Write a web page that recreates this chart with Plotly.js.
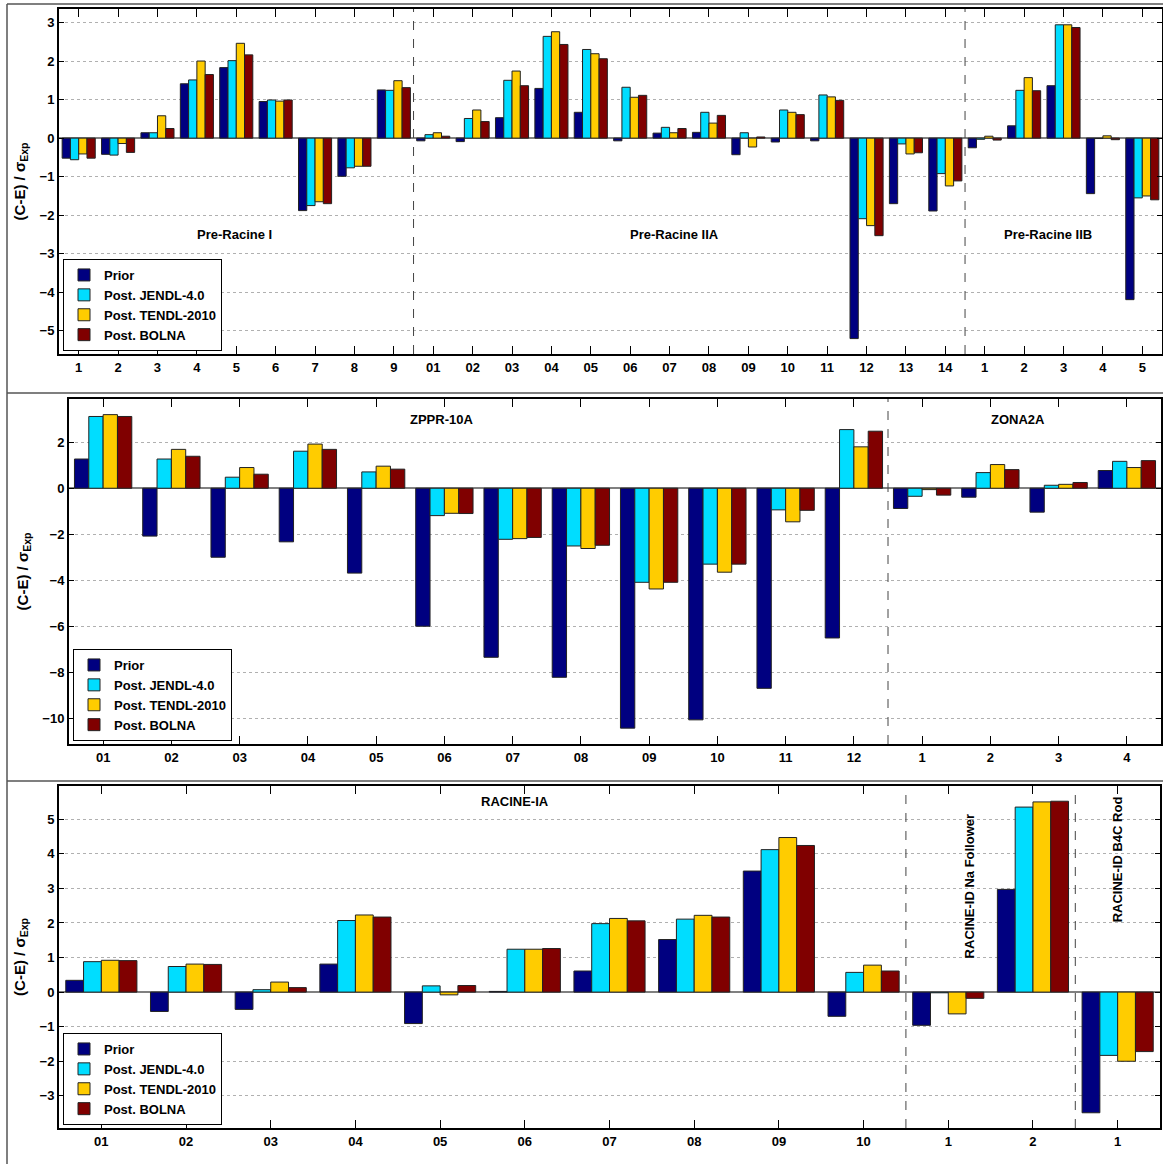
<!DOCTYPE html>
<html>
<head>
<meta charset="utf-8">
<script src="https://cdn.plot.ly/plotly-3.0.1.min.js"></script>
<style>html,body{margin:0;padding:0;background:#fff;}#chart{width:1163px;height:1164px;}</style>
</head>
<body>
<div id="chart"></div>
<script>
// ---------- DATA ----------
const seriesNames = ["Prior", "Post. JENDL-4.0", "Post. TENDL-2010", "Post. BOLNA"];

// Panel 1: Pre-Racine I (1-9), Pre-Racine IIA (01-14), Pre-Racine IIB (1-5)
const p1Labels = ["1","2","3","4","5","6","7","8","9",
  "01","02","03","04","05","06","07","08","09","10","11","12","13","14",
  "1","2","3","4","5"];
const p1Prior = [-0.52,-0.42,0.14,1.41,1.83,0.95,-1.88,-0.99,1.25,
  -0.07,-0.09,0.53,1.29,0.67,-0.07,0.13,0.15,-0.43,-0.10,-0.07,-5.20,-1.70,-1.89,
  -0.25,0.32,1.36,-1.44,-4.19];
const p1Jendl = [-0.56,-0.44,0.14,1.51,2.01,0.99,-1.75,-0.77,1.24,
  0.09,0.51,1.50,2.64,2.30,1.32,0.28,0.67,0.14,0.73,1.12,-2.09,-0.15,-0.92,
  -0.03,1.24,2.94,-0.01,-1.55];
const p1Tendl = [-0.41,-0.14,0.58,2.00,2.46,0.96,-1.65,-0.73,1.49,
  0.14,0.73,1.74,2.76,2.19,1.06,0.14,0.39,-0.23,0.67,1.07,-2.27,-0.41,-1.24,
  0.05,1.57,2.94,0.06,-1.50];
const p1Bolna = [-0.52,-0.37,0.25,1.65,2.16,0.99,-1.70,-0.73,1.31,
  0.05,0.43,1.36,2.43,2.06,1.11,0.25,0.59,0.03,0.61,0.98,-2.53,-0.38,-1.11,
  -0.05,1.23,2.87,-0.04,-1.60];

// Panel 2: ZPPR-10A (01-12), ZONA2A (1-4)
const p2Labels = ["01","02","03","04","05","06","07","08","09","10","11","12","1","2","3","4"];
const p2Prior = [1.27,-2.08,-3.00,-2.33,-3.69,-6.00,-7.35,-8.22,-10.43,-10.07,-8.70,-6.51,-0.88,-0.39,-1.04,0.77];
const p2Jendl = [3.12,1.27,0.48,1.61,0.71,-1.19,-2.22,-2.51,-4.09,-3.30,-0.94,2.55,-0.35,0.68,0.13,1.17];
const p2Tendl = [3.20,1.69,0.90,1.92,0.96,-1.09,-2.19,-2.62,-4.38,-3.65,-1.46,1.80,-0.06,1.03,0.17,0.90];
const p2Bolna = [3.12,1.39,0.61,1.69,0.83,-1.10,-2.14,-2.48,-4.09,-3.30,-0.96,2.48,-0.30,0.81,0.25,1.20];

// Panel 3: RACINE-IA (01-10), RACINE-ID Na Follower (1-2), RACINE-ID B4C Rod (1)
const p3Labels = ["01","02","03","04","05","06","07","08","09","10","1","2","1"];
const p3Prior = [0.34,-0.56,-0.50,0.81,-0.91,0.02,0.61,1.52,3.50,-0.70,-0.96,2.97,-3.49];
const p3Jendl = [0.88,0.74,0.07,2.07,0.18,1.24,1.98,2.11,4.12,0.57,-0.02,5.35,-1.83];
const p3Tendl = [0.92,0.81,0.29,2.23,-0.08,1.24,2.13,2.22,4.47,0.78,-0.63,5.50,-2.00];
const p3Bolna = [0.91,0.80,0.13,2.17,0.19,1.26,2.06,2.17,4.24,0.61,-0.18,5.52,-1.72];

// Group labels and separators (in category units)
const p1Groups = [{t:"Pre-Racine I", x:3.96, y:-2.5},{t:"Pre-Racine IIA", x:15.13, y:-2.5},{t:"Pre-Racine IIB", x:24.6, y:-2.5}];
const p1Seps = [8.5, 22.5];
const p2Groups = [{t:"ZPPR-10A", x:4.96, y:3.0},{t:"ZONA2A", x:13.4, y:3.0}];
const p2Seps = [11.5];
const p3Groups = [{t:"RACINE-IA", x:4.89, y:5.5, a:0},{t:"RACINE-ID Na Follower", x:10.25, y:3.07, a:-90},{t:"RACINE-ID B4C Rod", x:12.0, y:3.83, a:-90}];
const p3Seps = [9.5, 11.5];

// ---------- STYLE ----------
const colors = ["#000080", "#00DDFF", "#FFCC00", "#800000"];
const W = 1163, H = 1164;
const FONT = "Liberation Sans, Arial, Helvetica, sans-serif";

const panels = [
  {labels:p1Labels, series:[p1Prior,p1Jendl,p1Tendl,p1Bolna], groups:p1Groups, seps:p1Seps,
   xpx:[59,1162], ypx:[9,354], yr:[-5.6,3.35], ytv:[-5,-4,-3,-2,-1,0,1,2,3], leg:[63,351]},
  {labels:p2Labels, series:[p2Prior,p2Jendl,p2Tendl,p2Bolna], groups:p2Groups, seps:p2Seps,
   xpx:[69,1161], ypx:[399,744], yr:[-11.12,3.88], ytv:[-10,-8,-6,-4,-2,0,2], leg:[73,741]},
  {labels:p3Labels, series:[p3Prior,p3Jendl,p3Tendl,p3Bolna], groups:p3Groups, seps:p3Seps,
   xpx:[59,1160], ypx:[786,1128], yr:[-3.93,5.96], ytv:[-3,-2,-1,0,1,2,3,4,5], leg:[63,1125]}
];

const traces = [];
const layout = {
  width: W, height: H,
  margin: {l:0, r:0, t:0, b:0},
  paper_bgcolor: "#fff", plot_bgcolor: "#fff",
  barmode: "group", bargap: 0.16, bargroupgap: 0,
  font: {family: FONT, size: 13, color: "#000"},
  annotations: [], shapes: []
};

panels.forEach((p, k) => {
  const sfx = k === 0 ? "" : String(k + 1);
  const xa = "x" + sfx, ya = "y" + sfx;
  const legName = "legend" + sfx;
  const xs = p.labels.map((_, i) => i);
  p.series.forEach((vals, s) => {
    traces.push({
      type: "bar", x: xs, y: vals, name: seriesNames[s],
      xaxis: xa, yaxis: ya, legend: legName,
      marker: {color: colors[s], line: {color: "#222", width: 1}},
      hoverinfo: "y+name"
    });
  });
  layout["xaxis" + sfx] = {
    domain: [p.xpx[0] / W, p.xpx[1] / W], anchor: ya,
    range: [-0.5, p.labels.length - 0.5],
    tickmode: "array", tickvals: xs, ticktext: p.labels,
    ticks: "inside", ticklen: 8, tickwidth: 1, tickcolor: "#000",
    showline: true, linecolor: "#000", linewidth: 2, mirror: "ticks",
    showgrid: false, zeroline: false,
    tickfont: {family: FONT, size: 13, weight: "bold", color: "#000"},
    fixedrange: true
  };
  layout["yaxis" + sfx] = {
    domain: [1 - p.ypx[1] / H, 1 - p.ypx[0] / H], anchor: xa,
    range: p.yr, tickmode: "array", tickvals: p.ytv,
    ticks: "inside", ticklen: 5, tickwidth: 1, tickcolor: "#000",
    showline: true, linecolor: "#000", linewidth: 2, mirror: "ticks",
    showgrid: true, gridcolor: "#b0b0b0", griddash: "dot", gridwidth: 1,
    zeroline: true, zerolinecolor: "#808080", zerolinewidth: 1.5,
    tickfont: {family: FONT, size: 13, weight: "bold", color: "#000"},
    title: {text: "(C-E) / σ<sub>Exp</sub>", font: {family: FONT, size: 15, weight: "bold", color: "#000"}, standoff: 10},
    automargin: false, fixedrange: true
  };
  layout[legName] = {
    x: p.leg[0] / W, y: 1 - p.leg[1] / H, xanchor: "left", yanchor: "bottom",
    xref: "paper", yref: "paper",
    bgcolor: "#fff", bordercolor: "#000", borderwidth: 1,
    font: {family: FONT, size: 13, weight: "bold", color: "#000"},
    tracegroupgap: 0, itemwidth: 30, traceorder: "normal"
  };
  p.groups.forEach(g => {
    layout.annotations.push({
      xref: xa, yref: ya, x: g.x, y: g.y, text: g.t, showarrow: false,
      textangle: g.a || 0,
      font: {family: FONT, size: 13, weight: "bold", color: "#000"}
    });
  });
  p.seps.forEach(sx => {
    layout.shapes.push({
      type: "line", xref: xa, yref: ya + " domain", x0: sx, x1: sx, y0: 0, y1: 1,
      line: {color: "#444", width: 1, dash: "dash"}, layer: "above"
    });
  });
});

// Figure frame lines
const frameLines = [
  [7, 4, 1163, 4], [7, 4, 7, 1164], [7, 393, 1163, 393], [7, 781, 1163, 781]
];
frameLines.forEach(f => {
  layout.shapes.push({
    type: "line", xref: "paper", yref: "paper",
    x0: f[0] / W, x1: f[2] / W, y0: 1 - f[1] / H, y1: 1 - f[3] / H,
    line: {color: "#555", width: 1.5}
  });
});

Plotly.newPlot("chart", traces, layout, {displayModeBar: false, staticPlot: true});
</script>
</body>
</html>
